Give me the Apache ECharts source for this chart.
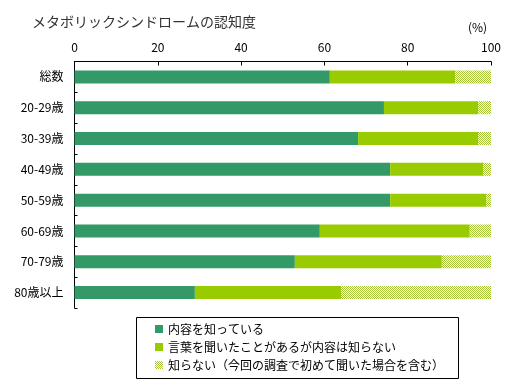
<!DOCTYPE html>
<html><head><meta charset="utf-8">
<script src="https://cdn.jsdelivr.net/npm/echarts@6/dist/echarts.min.js"></script>
<style>html,body{margin:0;padding:0;background:#fff}#c{width:518px;height:382px}</style>
</head><body><div id="c"></div>
<script>
const categories = ['総数','20-29歳','30-39歳','40-49歳','50-59歳','60-69歳','70-79歳','80歳以上'];
const known = [61.3, 74.3, 68.1, 75.8, 75.8, 58.9, 52.9, 28.9];
const heard = [30.1, 22.6, 28.8, 22.3, 23.0, 36.0, 35.3, 35.1];
const unknown = [8.6, 3.1, 3.1, 1.9, 1.2, 5.1, 11.8, 36.0];
const seriesNames = ['内容を知っている','言葉を聞いたことがあるが内容は知らない','知らない（今回の調査で初めて聞いた場合を含む）'];
const xTicks = [0, 20, 40, 60, 80, 100];

const FONT = '"Noto Sans CJK JP", sans-serif';
const pc = document.createElement('canvas');
pc.width = 2; pc.height = 2;
const g = pc.getContext('2d');
g.fillStyle = '#ffffff'; g.fillRect(0,0,2,2);
g.fillStyle = '#a6c63a'; g.fillRect(0,0,1,1); g.fillRect(1,1,1,1);
const hatch = {image: pc, repeat: 'repeat'};

const chart = echarts.init(document.getElementById('c'));
chart.setOption({
  animation: false,
  textStyle: {fontFamily: FONT},
  title: {text: 'メタボリックシンドロームの認知度', left: 27, top: 10,
    textStyle: {fontSize: 14, fontWeight: 'normal', color: '#333', fontFamily: FONT}},
  grid: {left: 74.5, right: 27, top: 61.5, bottom: 74},
  xAxis: {type: 'value', position: 'top', min: 0, max: 100, interval: 20,
    axisLine: {show: true, lineStyle: {color: '#000'}},
    axisTick: {show: true, inside: true, length: 4, lineStyle: {color: '#000'}},
    splitLine: {show: false},
    axisLabel: {fontSize: 12, color: '#000', margin: 8, fontFamily: FONT,
      formatter: v => xTicks.includes(v) ? String(v) : ''}},
  yAxis: {type: 'category', data: categories, inverse: true,
    axisLine: {show: true, lineStyle: {color: '#000'}},
    axisTick: {show: true, inside: true, length: 3, lineStyle: {color: '#000'}},
    axisLabel: {fontSize: 12, color: '#000', margin: 11, fontFamily: FONT}},
  legend: {orient: 'vertical', left: 150, top: 318, itemWidth: 8, itemHeight: 8, itemGap: 6,
    icon: 'rect', textStyle: {fontSize: 12, color: '#000', fontFamily: FONT},
    data: seriesNames},
  graphic: [
    {type: 'rect', left: 134, top: 315, shape: {width: 322, height: 61},
      style: {fill: 'none', stroke: '#000', lineWidth: 1}, z: 0},
    {type: 'text', left: 468, top: 21, style: {text: '(%)', fontSize: 12, fill: '#000', fontFamily: FONT}}
  ],
  series: [
    {name: seriesNames[0], type: 'bar', stack: 's', data: known, barWidth: 13,
      itemStyle: {color: '#339966'}},
    {name: seriesNames[1], type: 'bar', stack: 's', data: heard, barWidth: 13,
      itemStyle: {color: '#99cc00'}},
    {name: seriesNames[2], type: 'bar', stack: 's', data: unknown, barWidth: 13,
      itemStyle: {color: hatch}}
  ]
});
</script></body></html>
